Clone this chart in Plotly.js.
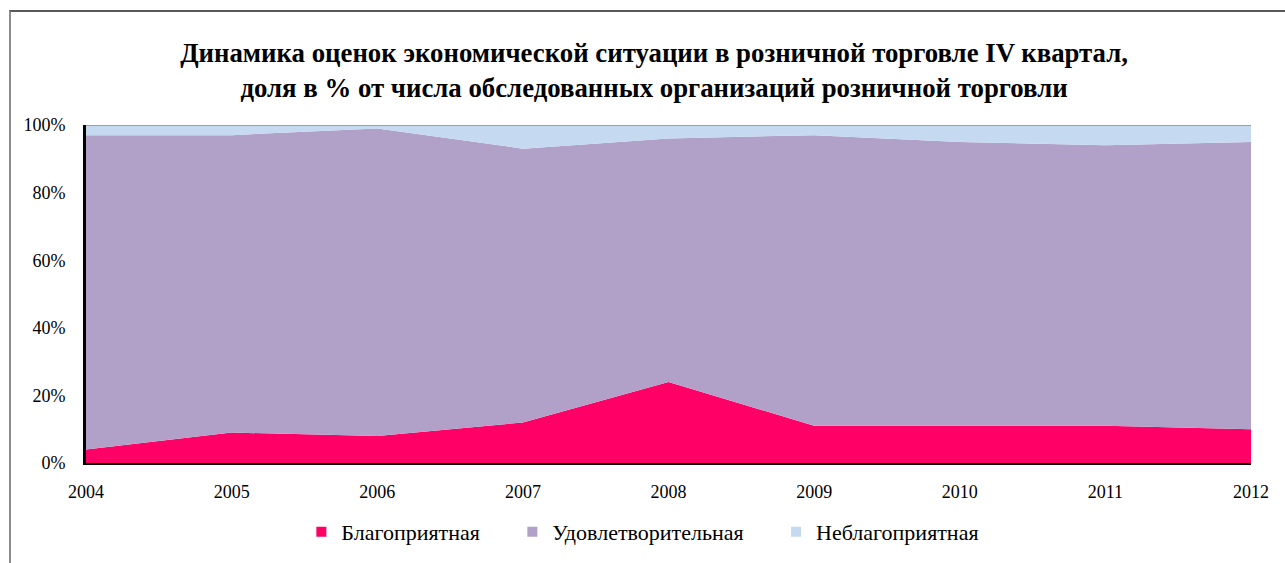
<!DOCTYPE html>
<html>
<head>
<meta charset="utf-8">
<script src="https://cdn.plot.ly/plotly-3.0.1.min.js"></script>
<style>
html,body{margin:0;padding:0;background:#fff;}
#wrap{position:relative;width:1285px;height:563px;overflow:hidden;}
#frame{position:absolute;left:9px;top:10px;width:1290px;height:600px;border-left:2px solid #8c8c8c;border-top:2px solid #595959;box-sizing:border-box;pointer-events:none;}
#chart{position:absolute;left:0;top:0;width:1285px;height:563px;}
</style>
</head>
<body>
<div id="wrap">
<div id="chart"></div>
<div id="frame"></div>
</div>
<script>
var years = [2004, 2005, 2006, 2007, 2008, 2009, 2010, 2011, 2012];
var favorable = [4, 9, 8, 12, 24, 11, 11, 11, 10];
var satisfactory = [93, 88, 91, 81, 72, 86, 84, 83, 85];
var unfavorable = [3, 3, 1, 7, 4, 3, 5, 6, 5];
var seriesNames = ['Благоприятная', 'Удовлетворительная', 'Неблагоприятная'];
var seriesColors = ['#FF0066', '#B1A0C7', '#C5D9F1'];
var yTicks = [0, 20, 40, 60, 80, 100];
var yTickLabels = ['0%', '20%', '40%', '60%', '80%', '100%'];
var titleText = '<b>Динамика оценок экономической ситуации в розничной торговле IV квартал,</b><br><b>доля в % от числа обследованных организаций розничной торговли</b>';

var serif = 'Liberation Serif, Times New Roman, serif';
var pad = '\u00a0\u00a0\u00a0\u00a0\u00a0';
var seriesValues = [favorable, satisfactory, unfavorable];
var traces = [];
for (var i = 0; i < 3; i++) {
  traces.push({
    x: years, y: seriesValues[i], type: 'scatter', mode: 'none',
    stackgroup: 'one', fillcolor: seriesColors[i], line: {width: 0},
    name: seriesNames[i], showlegend: false, hoverinfo: 'x+y+name'
  });
}
for (var j = 0; j < 3; j++) {
  traces.push({
    x: [null], y: [null], type: 'scatter', mode: 'markers',
    marker: {symbol: 'square', size: 10, color: seriesColors[j]},
    name: seriesNames[j] + (j < 2 ? pad : ''), showlegend: true
  });
}

var layout = {
  width: 1285, height: 563,
  margin: {l: 86, r: 34, t: 125, b: 100},
  paper_bgcolor: '#ffffff', plot_bgcolor: '#ffffff',
  font: {family: serif, size: 18, color: '#000'},
  title: {
    text: titleText,
    font: {family: serif, size: 26.8, color: '#000'},
    xref: 'paper', x: 0.4876, xanchor: 'center',
    yref: 'container', y: 1 - 62 / 563, yanchor: 'middle'
  },
  xaxis: {
    range: [2004, 2012], tickmode: 'array', tickvals: years,
    ticktext: years.map(String), showgrid: false, zeroline: false,
    showline: true, linecolor: '#000', linewidth: 1.5, ticks: '',
    ticklabelstandoff: 12, tickfont: {family: serif, size: 18}
  },
  yaxis: {
    range: [0, 100], tickmode: 'array', tickvals: yTicks, ticktext: yTickLabels,
    showgrid: false, zeroline: false, showline: true, linecolor: '#000',
    linewidth: 3, ticks: '', ticklabelstandoff: 14,
    tickfont: {family: serif, size: 18}
  },
  shapes: [{type: 'line', xref: 'paper', yref: 'y', x0: 0, x1: 1, y0: 100, y1: 100,
            line: {color: '#8c8c8c', width: 1.5}}],
  legend: {
    orientation: 'h', x: 0.478, xanchor: 'center', xref: 'paper',
    y: 1 - 532 / 563, yref: 'container', yanchor: 'middle',
    font: {family: serif, size: 22}, itemwidth: 30, traceorder: 'normal',
    bgcolor: 'rgba(0,0,0,0)'
  },
  showlegend: true
};
Plotly.newPlot('chart', traces, layout, {displayModeBar: false, staticPlot: true});
</script>
</body>
</html>
